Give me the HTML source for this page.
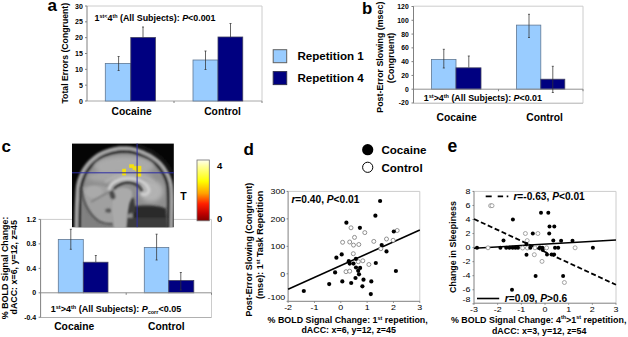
<!DOCTYPE html>
<html><head><meta charset="utf-8"><style>
html,body{margin:0;padding:0;background:#fff;}
svg{display:block;}
text{font-family:"Liberation Sans", sans-serif;fill:#000;}
</style></head><body>
<svg width="628" height="337" viewBox="0 0 628 337">
<rect width="628" height="337" fill="#fff"/>
<text x="47.4" y="10.8" font-size="17" font-weight="bold" text-anchor="start" >a</text>
<line x1="87" y1="6" x2="262" y2="6" stroke="#cccccc" stroke-width="1" />
<line x1="262" y1="6" x2="262" y2="101" stroke="#cccccc" stroke-width="1" />
<line x1="87" y1="101" x2="262" y2="101" stroke="#a8a8a8" stroke-width="1" />
<line x1="85" y1="101.0" x2="87" y2="101.0" stroke="#808080" stroke-width="1" />
<text x="82.8" y="103.6" font-size="7" font-weight="bold" text-anchor="end" >0</text>
<line x1="85" y1="85.16666666666667" x2="87" y2="85.16666666666667" stroke="#808080" stroke-width="1" />
<text x="82.8" y="87.76666666666667" font-size="7" font-weight="bold" text-anchor="end" >5</text>
<line x1="85" y1="69.33333333333333" x2="87" y2="69.33333333333333" stroke="#808080" stroke-width="1" />
<text x="82.8" y="71.93333333333332" font-size="7" font-weight="bold" text-anchor="end" >10</text>
<line x1="85" y1="53.5" x2="87" y2="53.5" stroke="#808080" stroke-width="1" />
<text x="82.8" y="56.1" font-size="7" font-weight="bold" text-anchor="end" >15</text>
<line x1="85" y1="37.666666666666664" x2="87" y2="37.666666666666664" stroke="#808080" stroke-width="1" />
<text x="82.8" y="40.266666666666666" font-size="7" font-weight="bold" text-anchor="end" >20</text>
<line x1="85" y1="21.83333333333333" x2="87" y2="21.83333333333333" stroke="#808080" stroke-width="1" />
<text x="82.8" y="24.43333333333333" font-size="7" font-weight="bold" text-anchor="end" >25</text>
<line x1="85" y1="6.0" x2="87" y2="6.0" stroke="#808080" stroke-width="1" />
<text x="82.8" y="8.6" font-size="7" font-weight="bold" text-anchor="end" >30</text>
<rect x="105.3" y="63.4" width="25.5" height="37.6" fill="#99CCFF" stroke="#5f7894" stroke-width="0.8"/>
<rect x="130.8" y="37.5" width="24.6" height="63.5" fill="#000080" stroke="#404060" stroke-width="0.8"/>
<rect x="193" y="60" width="25" height="41" fill="#99CCFF" stroke="#5f7894" stroke-width="0.8"/>
<rect x="218" y="37" width="24.75" height="64" fill="#000080" stroke="#404060" stroke-width="0.8"/>
<line x1="87" y1="6" x2="87" y2="101" stroke="#808080" stroke-width="1" />
<line x1="174" y1="101" x2="174" y2="103" stroke="#808080" stroke-width="1" />
<line x1="262" y1="101" x2="262" y2="103" stroke="#808080" stroke-width="1" />
<line x1="118.6" y1="56.5" x2="118.6" y2="70.5" stroke="#333" stroke-width="0.75" />
<line x1="117.6" y1="56.5" x2="119.6" y2="56.5" stroke="#333" stroke-width="0.75" />
<line x1="117.6" y1="70.5" x2="119.6" y2="70.5" stroke="#333" stroke-width="0.75" />
<line x1="143" y1="27" x2="143" y2="37.5" stroke="#333" stroke-width="0.75" />
<line x1="142" y1="27" x2="144" y2="27" stroke="#333" stroke-width="0.75" />
<line x1="205.5" y1="51" x2="205.5" y2="69.5" stroke="#333" stroke-width="0.75" />
<line x1="204.5" y1="51" x2="206.5" y2="51" stroke="#333" stroke-width="0.75" />
<line x1="204.5" y1="69.5" x2="206.5" y2="69.5" stroke="#333" stroke-width="0.75" />
<line x1="230.5" y1="23.5" x2="230.5" y2="37" stroke="#333" stroke-width="0.75" />
<line x1="229.5" y1="23.5" x2="231.5" y2="23.5" stroke="#333" stroke-width="0.75" />
<text x="94.6" y="20.8" font-size="8.9" font-weight="bold">1<tspan font-size="5.4" dy="-3">st&lt;</tspan><tspan dy="3">4</tspan><tspan font-size="5.4" dy="-3">th</tspan><tspan dy="3"> (All Subjects): </tspan><tspan font-style="italic">P</tspan>&lt;0.001</text>
<text x="111.6" y="114.5" font-size="10.3" font-weight="bold" text-anchor="start" >Cocaine</text>
<text x="204.2" y="114.5" font-size="10.3" font-weight="bold" text-anchor="start" >Control</text>
<text transform="translate(68.2,53.2) rotate(-90)" x="0" y="0" font-size="8.7" font-weight="bold" text-anchor="middle" >Total Errors (Congruent)</text>
<rect x="273.2" y="49.7" width="13.5" height="13" fill="#99CCFF" stroke="#606060" stroke-width="1"/>
<rect x="273.2" y="71.6" width="13.5" height="13" fill="#000080" stroke="#303050" stroke-width="1"/>
<text x="297.4" y="59.6" font-size="11.6" font-weight="bold" text-anchor="start" >Repetition 1</text>
<text x="297.4" y="81.9" font-size="11.6" font-weight="bold" text-anchor="start" >Repetition 4</text>
<text x="361.9" y="13.5" font-size="16.8" font-weight="bold" text-anchor="start" >b</text>
<line x1="413.5" y1="6.2" x2="583" y2="6.2" stroke="#cccccc" stroke-width="1" />
<line x1="583" y1="6.2" x2="583" y2="103.2" stroke="#cccccc" stroke-width="1" />
<line x1="413.5" y1="103.2" x2="583" y2="103.2" stroke="#b0b0b0" stroke-width="1" />
<line x1="411.5" y1="102.98333333333333" x2="413.5" y2="102.98333333333333" stroke="#808080" stroke-width="1" />
<text x="408.7" y="105.48333333333333" font-size="6.8" font-weight="bold" text-anchor="end" >-20</text>
<line x1="411.5" y1="89.2" x2="413.5" y2="89.2" stroke="#808080" stroke-width="1" />
<text x="408.7" y="91.7" font-size="6.8" font-weight="bold" text-anchor="end" >0</text>
<line x1="411.5" y1="75.41666666666667" x2="413.5" y2="75.41666666666667" stroke="#808080" stroke-width="1" />
<text x="408.7" y="77.91666666666667" font-size="6.8" font-weight="bold" text-anchor="end" >20</text>
<line x1="411.5" y1="61.63333333333334" x2="413.5" y2="61.63333333333334" stroke="#808080" stroke-width="1" />
<text x="408.7" y="64.13333333333334" font-size="6.8" font-weight="bold" text-anchor="end" >40</text>
<line x1="411.5" y1="47.85" x2="413.5" y2="47.85" stroke="#808080" stroke-width="1" />
<text x="408.7" y="50.35" font-size="6.8" font-weight="bold" text-anchor="end" >60</text>
<line x1="411.5" y1="34.06666666666667" x2="413.5" y2="34.06666666666667" stroke="#808080" stroke-width="1" />
<text x="408.7" y="36.56666666666667" font-size="6.8" font-weight="bold" text-anchor="end" >80</text>
<line x1="411.5" y1="20.28333333333333" x2="413.5" y2="20.28333333333333" stroke="#808080" stroke-width="1" />
<text x="408.7" y="22.78333333333333" font-size="6.8" font-weight="bold" text-anchor="end" >100</text>
<line x1="411.5" y1="6.5" x2="413.5" y2="6.5" stroke="#808080" stroke-width="1" />
<text x="408.7" y="9.0" font-size="6.8" font-weight="bold" text-anchor="end" >120</text>
<rect x="431.5" y="59.56583333333334" width="24.5" height="29.634166666666665" fill="#99CCFF" stroke="#5f7894" stroke-width="0.8"/>
<rect x="456" y="67.83583333333334" width="25" height="21.364166666666662" fill="#000080" stroke="#404060" stroke-width="0.8"/>
<rect x="516.5" y="25.1075" width="24.3" height="64.0925" fill="#99CCFF" stroke="#5f7894" stroke-width="0.8"/>
<rect x="540.8" y="79.20708333333333" width="24" height="9.992916666666673" fill="#000080" stroke="#404060" stroke-width="0.8"/>
<line x1="413.5" y1="89.2" x2="583" y2="89.2" stroke="#909090" stroke-width="1" />
<line x1="413.5" y1="6.2" x2="413.5" y2="103.2" stroke="#808080" stroke-width="1" />
<line x1="498.5" y1="89.2" x2="498.5" y2="91.2" stroke="#808080" stroke-width="1" />
<line x1="583" y1="89.2" x2="583" y2="91.2" stroke="#808080" stroke-width="1" />
<line x1="443.8" y1="49.3" x2="443.8" y2="68" stroke="#333" stroke-width="0.75" />
<line x1="442.8" y1="49.3" x2="444.8" y2="49.3" stroke="#333" stroke-width="0.75" />
<line x1="442.8" y1="68" x2="444.8" y2="68" stroke="#333" stroke-width="0.75" />
<line x1="468.8" y1="56" x2="468.8" y2="67.5" stroke="#333" stroke-width="0.75" />
<line x1="467.8" y1="56" x2="469.8" y2="56" stroke="#333" stroke-width="0.75" />
<line x1="529" y1="14.3" x2="529" y2="37.5" stroke="#333" stroke-width="0.75" />
<line x1="528" y1="14.3" x2="530" y2="14.3" stroke="#333" stroke-width="0.75" />
<line x1="528" y1="37.5" x2="530" y2="37.5" stroke="#333" stroke-width="0.75" />
<line x1="552.8" y1="66.3" x2="552.8" y2="92.5" stroke="#333" stroke-width="0.75" />
<line x1="551.8" y1="66.3" x2="553.8" y2="66.3" stroke="#333" stroke-width="0.75" />
<line x1="551.8" y1="92.5" x2="553.8" y2="92.5" stroke="#333" stroke-width="0.75" />
<text x="423.8" y="100.8" font-size="8.9" font-weight="bold">1<tspan font-size="5.5" dy="-3">st</tspan><tspan dy="3">&gt;4</tspan><tspan font-size="5.5" dy="-3">th</tspan><tspan dy="3"> (All Subjects): </tspan><tspan font-style="italic">P</tspan>&lt;0.01</text>
<text x="436.6" y="120.5" font-size="10.3" font-weight="bold" text-anchor="start" >Cocaine</text>
<text x="526.3" y="120.5" font-size="10.3" font-weight="bold" text-anchor="start" >Control</text>
<text transform="translate(383.4,57.2) rotate(-90)" x="0" y="0" font-size="8.85" font-weight="bold" text-anchor="middle" >Post-Error Slowing (msec)</text>
<text transform="translate(394.0,58) rotate(-90)" x="0" y="0" font-size="8.85" font-weight="bold" text-anchor="middle" >(Congruent)</text>
<text x="1.4" y="152.2" font-size="17" font-weight="bold" text-anchor="start" >c</text>
<line x1="40.6" y1="219.4" x2="211.5" y2="219.4" stroke="#cccccc" stroke-width="1" />
<line x1="211.5" y1="219.4" x2="211.5" y2="317.5" stroke="#cccccc" stroke-width="1" />
<line x1="40.6" y1="317.5" x2="211.5" y2="317.5" stroke="#b0b0b0" stroke-width="1" />
<line x1="38.6" y1="219.4" x2="40.6" y2="219.4" stroke="#808080" stroke-width="1" />
<text x="36.2" y="221.9" font-size="7" font-weight="bold" text-anchor="end" >1.2</text>
<line x1="38.6" y1="243.86666666666667" x2="40.6" y2="243.86666666666667" stroke="#808080" stroke-width="1" />
<text x="36.2" y="246.36666666666667" font-size="7" font-weight="bold" text-anchor="end" >0.8</text>
<line x1="38.6" y1="268.33333333333337" x2="40.6" y2="268.33333333333337" stroke="#808080" stroke-width="1" />
<text x="36.2" y="270.83333333333337" font-size="7" font-weight="bold" text-anchor="end" >0.4</text>
<line x1="38.6" y1="292.8" x2="40.6" y2="292.8" stroke="#808080" stroke-width="1" />
<text x="36.2" y="295.3" font-size="7" font-weight="bold" text-anchor="end" >0</text>
<line x1="38.6" y1="317.26666666666665" x2="40.6" y2="317.26666666666665" stroke="#808080" stroke-width="1" />
<text x="36.2" y="319.76666666666665" font-size="7" font-weight="bold" text-anchor="end" >-0.4</text>
<rect x="58.3" y="239.585" width="25" height="53.215" fill="#99CCFF" stroke="#5f7894" stroke-width="0.8"/>
<rect x="83.3" y="262.2166666666667" width="24.7" height="30.583333333333314" fill="#000080" stroke="#404060" stroke-width="0.8"/>
<rect x="144.3" y="247.5366666666667" width="24.5" height="45.26333333333332" fill="#99CCFF" stroke="#5f7894" stroke-width="0.8"/>
<rect x="168.8" y="280.56666666666666" width="25" height="12.233333333333348" fill="#000080" stroke="#404060" stroke-width="0.8"/>
<line x1="40.6" y1="292.8" x2="211.5" y2="292.8" stroke="#909090" stroke-width="1" />
<line x1="40.6" y1="219.4" x2="40.6" y2="317.5" stroke="#808080" stroke-width="1" />
<line x1="126.2" y1="292.8" x2="126.2" y2="294.8" stroke="#808080" stroke-width="1" />
<line x1="211.5" y1="292.8" x2="211.5" y2="294.8" stroke="#808080" stroke-width="1" />
<line x1="70.8" y1="229.3" x2="70.8" y2="249.3" stroke="#333" stroke-width="0.75" />
<line x1="69.8" y1="229.3" x2="71.8" y2="229.3" stroke="#333" stroke-width="0.75" />
<line x1="69.8" y1="249.3" x2="71.8" y2="249.3" stroke="#333" stroke-width="0.75" />
<line x1="95.8" y1="255.5" x2="95.8" y2="262" stroke="#333" stroke-width="0.75" />
<line x1="94.8" y1="255.5" x2="96.8" y2="255.5" stroke="#333" stroke-width="0.75" />
<line x1="156.6" y1="234.2" x2="156.6" y2="260" stroke="#333" stroke-width="0.75" />
<line x1="155.6" y1="234.2" x2="157.6" y2="234.2" stroke="#333" stroke-width="0.75" />
<line x1="155.6" y1="260" x2="157.6" y2="260" stroke="#333" stroke-width="0.75" />
<line x1="180.8" y1="272.5" x2="180.8" y2="290" stroke="#333" stroke-width="0.75" />
<line x1="179.8" y1="272.5" x2="181.8" y2="272.5" stroke="#333" stroke-width="0.75" />
<line x1="179.8" y1="290" x2="181.8" y2="290" stroke="#333" stroke-width="0.75" />
<text x="50.8" y="312.4" font-size="9.0" font-weight="bold">1<tspan font-size="5.5" dy="-3.2">st</tspan><tspan dy="3.2">&gt;4</tspan><tspan font-size="5.5" dy="-3.2">th</tspan><tspan dy="3.2"> (All Subjects): </tspan><tspan font-style="italic">P</tspan><tspan font-size="5.5" dy="2">corr</tspan><tspan dy="-2">&lt;0.05</tspan></text>
<text x="54.2" y="330.2" font-size="10.3" font-weight="bold" text-anchor="start" >Cocaine</text>
<text x="148.0" y="330.2" font-size="10.3" font-weight="bold" text-anchor="start" >Control</text>
<text transform="translate(8.3,267.9) rotate(-90)" x="0" y="0" font-size="8.9" font-weight="bold" text-anchor="middle" >% BOLD Signal Change:</text>
<text transform="translate(17.2,267.3) rotate(-90)" x="0" y="0" font-size="8.9" font-weight="bold" text-anchor="middle" >dACC: x=6, y=12, z=45</text>
<text x="243.6" y="155.3" font-size="17" font-weight="bold" text-anchor="start" >d</text>
<line x1="288.1" y1="191.4" x2="419.8" y2="191.4" stroke="#cccccc" stroke-width="1" />
<line x1="419.8" y1="191.4" x2="419.8" y2="301.3" stroke="#cccccc" stroke-width="1" />
<line x1="288.1" y1="191.4" x2="288.1" y2="301.3" stroke="#808080" stroke-width="1" />
<line x1="288.1" y1="301.3" x2="419.8" y2="301.3" stroke="#808080" stroke-width="1" />
<line x1="286.6" y1="191.4" x2="288.1" y2="191.4" stroke="#808080" stroke-width="1" />
<line x1="286.6" y1="218.86666666666667" x2="288.1" y2="218.86666666666667" stroke="#808080" stroke-width="1" />
<line x1="286.6" y1="246.33333333333334" x2="288.1" y2="246.33333333333334" stroke="#808080" stroke-width="1" />
<line x1="286.6" y1="273.8" x2="288.1" y2="273.8" stroke="#808080" stroke-width="1" />
<line x1="286.6" y1="301.26666666666665" x2="288.1" y2="301.26666666666665" stroke="#808080" stroke-width="1" />
<text x="285.3" y="194.0" font-size="7.6" font-weight="normal" text-anchor="end" textLength="14.83" lengthAdjust="spacingAndGlyphs">300</text>
<text x="285.3" y="221.6" font-size="7.6" font-weight="normal" text-anchor="end" textLength="14.83" lengthAdjust="spacingAndGlyphs">200</text>
<text x="285.3" y="249.1" font-size="7.6" font-weight="normal" text-anchor="end" textLength="14.83" lengthAdjust="spacingAndGlyphs">100</text>
<text x="285.3" y="276.5" font-size="7.6" font-weight="normal" text-anchor="end" textLength="4.94" lengthAdjust="spacingAndGlyphs">0</text>
<text x="285.3" y="299.8" font-size="7.6" font-weight="normal" text-anchor="end" textLength="17.80" lengthAdjust="spacingAndGlyphs">-100</text>
<line x1="288.1" y1="301.3" x2="288.1" y2="302.8" stroke="#808080" stroke-width="1" />
<text x="288.1" y="309.6" font-size="7.6" font-weight="normal" text-anchor="middle" textLength="7.91" lengthAdjust="spacingAndGlyphs">-2</text>
<line x1="314.44" y1="301.3" x2="314.44" y2="302.8" stroke="#808080" stroke-width="1" />
<text x="314.44" y="309.6" font-size="7.6" font-weight="normal" text-anchor="middle" textLength="7.91" lengthAdjust="spacingAndGlyphs">-1</text>
<line x1="340.78000000000003" y1="301.3" x2="340.78000000000003" y2="302.8" stroke="#808080" stroke-width="1" />
<text x="340.78000000000003" y="309.6" font-size="7.6" font-weight="normal" text-anchor="middle" textLength="4.94" lengthAdjust="spacingAndGlyphs">0</text>
<line x1="367.12" y1="301.3" x2="367.12" y2="302.8" stroke="#808080" stroke-width="1" />
<text x="367.12" y="309.6" font-size="7.6" font-weight="normal" text-anchor="middle" textLength="4.94" lengthAdjust="spacingAndGlyphs">1</text>
<line x1="393.46000000000004" y1="301.3" x2="393.46000000000004" y2="302.8" stroke="#808080" stroke-width="1" />
<text x="393.46000000000004" y="309.6" font-size="7.6" font-weight="normal" text-anchor="middle" textLength="4.94" lengthAdjust="spacingAndGlyphs">2</text>
<line x1="419.8" y1="301.3" x2="419.8" y2="302.8" stroke="#808080" stroke-width="1" />
<text x="419.8" y="309.6" font-size="7.6" font-weight="normal" text-anchor="middle" textLength="4.94" lengthAdjust="spacingAndGlyphs">3</text>
<circle cx="367.7" cy="149.7" r="5.6" fill="#000"/>
<circle cx="367.7" cy="167.3" r="5.1" fill="#fff" stroke="#000" stroke-width="1"/>
<text x="381.4" y="154.3" font-size="11.6" font-weight="bold" text-anchor="start" >Cocaine</text>
<text x="381.4" y="172.1" font-size="11.6" font-weight="bold" text-anchor="start" >Control</text>
<text x="291.4" y="202.8" font-size="10.2" font-weight="bold"><tspan font-style="italic">r</tspan>=0.40, <tspan font-style="italic">P</tspan>&lt;0.01</text>
<line x1="288.1" y1="289.3" x2="419.8" y2="230.0" stroke="#000" stroke-width="1.6"/>
<circle cx="351" cy="227.8" r="2.0" fill="#fff" stroke="#777" stroke-width="0.8"/>
<circle cx="364.8" cy="232.6" r="2.0" fill="#fff" stroke="#777" stroke-width="0.8"/>
<circle cx="397.2" cy="230.5" r="2.0" fill="#fff" stroke="#777" stroke-width="0.8"/>
<circle cx="354.5" cy="237.4" r="2.0" fill="#fff" stroke="#777" stroke-width="0.8"/>
<circle cx="342.6" cy="242.3" r="2.0" fill="#fff" stroke="#777" stroke-width="0.8"/>
<circle cx="349.7" cy="242" r="2.0" fill="#fff" stroke="#777" stroke-width="0.8"/>
<circle cx="353.5" cy="245.1" r="2.0" fill="#fff" stroke="#777" stroke-width="0.8"/>
<circle cx="358.8" cy="244.5" r="2.0" fill="#fff" stroke="#777" stroke-width="0.8"/>
<circle cx="373.8" cy="241.4" r="2.0" fill="#fff" stroke="#777" stroke-width="0.8"/>
<circle cx="386.5" cy="239" r="2.0" fill="#fff" stroke="#777" stroke-width="0.8"/>
<circle cx="393.1" cy="240.3" r="2.0" fill="#fff" stroke="#777" stroke-width="0.8"/>
<circle cx="380.8" cy="248.7" r="2.0" fill="#fff" stroke="#777" stroke-width="0.8"/>
<circle cx="353.3" cy="253.7" r="2.0" fill="#fff" stroke="#777" stroke-width="0.8"/>
<circle cx="358.3" cy="261.7" r="2.0" fill="#fff" stroke="#777" stroke-width="0.8"/>
<circle cx="362.8" cy="260.8" r="2.0" fill="#fff" stroke="#777" stroke-width="0.8"/>
<circle cx="368.9" cy="264.5" r="2.0" fill="#fff" stroke="#777" stroke-width="0.8"/>
<circle cx="346" cy="271.7" r="2.0" fill="#fff" stroke="#777" stroke-width="0.8"/>
<circle cx="349.7" cy="271.2" r="2.0" fill="#fff" stroke="#777" stroke-width="0.8"/>
<circle cx="380.1" cy="201" r="2.1" fill="#000"/>
<circle cx="375.4" cy="215.7" r="2.1" fill="#000"/>
<circle cx="346.4" cy="222.7" r="2.1" fill="#000"/>
<circle cx="359.9" cy="227.8" r="2.1" fill="#000"/>
<circle cx="393.8" cy="231.5" r="2.1" fill="#000"/>
<circle cx="381.7" cy="245" r="2.1" fill="#000"/>
<circle cx="386.5" cy="251.4" r="2.1" fill="#000"/>
<circle cx="341.7" cy="254.4" r="2.1" fill="#000"/>
<circle cx="336.4" cy="257.7" r="2.1" fill="#000"/>
<circle cx="355.9" cy="258.8" r="2.1" fill="#000"/>
<circle cx="348.8" cy="261.2" r="2.1" fill="#000"/>
<circle cx="349.7" cy="263.6" r="2.1" fill="#000"/>
<circle cx="353.5" cy="263.6" r="2.1" fill="#000"/>
<circle cx="375.8" cy="263" r="2.1" fill="#000"/>
<circle cx="356" cy="267.5" r="2.1" fill="#000"/>
<circle cx="360.1" cy="267.9" r="2.1" fill="#000"/>
<circle cx="358.2" cy="270.8" r="2.1" fill="#000"/>
<circle cx="395.9" cy="271" r="2.1" fill="#000"/>
<circle cx="335.1" cy="272.4" r="2.1" fill="#000"/>
<circle cx="359" cy="274.3" r="2.1" fill="#000"/>
<circle cx="355.5" cy="278" r="2.1" fill="#000"/>
<circle cx="363.5" cy="279.7" r="2.1" fill="#000"/>
<circle cx="342.3" cy="281.4" r="2.1" fill="#000"/>
<circle cx="371.3" cy="281.4" r="2.1" fill="#000"/>
<circle cx="351.2" cy="283" r="2.1" fill="#000"/>
<circle cx="329.2" cy="284.1" r="2.1" fill="#000"/>
<circle cx="362.4" cy="286.3" r="2.1" fill="#000"/>
<circle cx="303.8" cy="291" r="2.1" fill="#000"/>
<circle cx="370.8" cy="294.1" r="2.1" fill="#000"/>
<text x="267.6" y="322.8" font-size="8.9" font-weight="bold">% BOLD Signal Change: 1<tspan font-size="5.4" dy="-3.2">st</tspan><tspan dy="3.2"> repetition,</tspan></text>
<text x="348.7" y="333" font-size="8.9" font-weight="bold" text-anchor="middle" >dACC: x=6, y=12, z=45</text>
<text transform="translate(252.3,249.7) rotate(-90)" x="0" y="0" font-size="8.88" font-weight="bold" text-anchor="middle" >Post-Error Slowing (Congruent)</text>
<text transform="translate(263.4,244.8) rotate(-90)" font-size="9.0" font-weight="bold" text-anchor="middle">(mse): 1<tspan font-size="5.4" dy="-3.2">st</tspan><tspan dy="3.2"> Task Repetition</tspan></text>
<text x="447.6" y="152.2" font-size="17.5" font-weight="bold" text-anchor="start" >e</text>
<line x1="474" y1="191.4" x2="616" y2="191.4" stroke="#cccccc" stroke-width="1" />
<line x1="616" y1="191.4" x2="616" y2="303.2" stroke="#cccccc" stroke-width="1" />
<line x1="474" y1="191.4" x2="474" y2="303.2" stroke="#808080" stroke-width="1" />
<line x1="474" y1="303.2" x2="616" y2="303.2" stroke="#808080" stroke-width="1" />
<line x1="472.5" y1="303.79999999999995" x2="474" y2="303.79999999999995" stroke="#808080" stroke-width="1" />
<line x1="472.5" y1="289.75" x2="474" y2="289.75" stroke="#808080" stroke-width="1" />
<line x1="472.5" y1="275.7" x2="474" y2="275.7" stroke="#808080" stroke-width="1" />
<line x1="472.5" y1="261.65" x2="474" y2="261.65" stroke="#808080" stroke-width="1" />
<line x1="472.5" y1="247.6" x2="474" y2="247.6" stroke="#808080" stroke-width="1" />
<line x1="472.5" y1="233.55" x2="474" y2="233.55" stroke="#808080" stroke-width="1" />
<line x1="472.5" y1="219.5" x2="474" y2="219.5" stroke="#808080" stroke-width="1" />
<line x1="472.5" y1="205.45" x2="474" y2="205.45" stroke="#808080" stroke-width="1" />
<line x1="472.5" y1="191.4" x2="474" y2="191.4" stroke="#808080" stroke-width="1" />
<text x="470.4" y="302.0" font-size="7.6" font-weight="normal" text-anchor="end" textLength="7.91" lengthAdjust="spacingAndGlyphs">-8</text>
<text x="470.4" y="292.0" font-size="7.6" font-weight="normal" text-anchor="end" textLength="7.91" lengthAdjust="spacingAndGlyphs">-6</text>
<text x="470.4" y="278.1" font-size="7.6" font-weight="normal" text-anchor="end" textLength="7.91" lengthAdjust="spacingAndGlyphs">-4</text>
<text x="470.4" y="263.90000000000003" font-size="7.6" font-weight="normal" text-anchor="end" textLength="7.91" lengthAdjust="spacingAndGlyphs">-2</text>
<text x="470.4" y="250.2" font-size="7.6" font-weight="normal" text-anchor="end" textLength="4.94" lengthAdjust="spacingAndGlyphs">0</text>
<text x="470.4" y="235.6" font-size="7.6" font-weight="normal" text-anchor="end" textLength="4.94" lengthAdjust="spacingAndGlyphs">2</text>
<text x="470.4" y="221.6" font-size="7.6" font-weight="normal" text-anchor="end" textLength="4.94" lengthAdjust="spacingAndGlyphs">4</text>
<text x="470.4" y="207.79999999999998" font-size="7.6" font-weight="normal" text-anchor="end" textLength="4.94" lengthAdjust="spacingAndGlyphs">6</text>
<text x="470.4" y="194.4" font-size="7.6" font-weight="normal" text-anchor="end" textLength="4.94" lengthAdjust="spacingAndGlyphs">8</text>
<line x1="474.0" y1="303.2" x2="474.0" y2="304.7" stroke="#808080" stroke-width="1" />
<text x="474.0" y="312.2" font-size="7.6" font-weight="normal" text-anchor="middle" textLength="7.91" lengthAdjust="spacingAndGlyphs">-3</text>
<line x1="497.6666666666667" y1="303.2" x2="497.6666666666667" y2="304.7" stroke="#808080" stroke-width="1" />
<text x="497.6666666666667" y="312.2" font-size="7.6" font-weight="normal" text-anchor="middle" textLength="7.91" lengthAdjust="spacingAndGlyphs">-2</text>
<line x1="521.3333333333334" y1="303.2" x2="521.3333333333334" y2="304.7" stroke="#808080" stroke-width="1" />
<text x="521.3333333333334" y="312.2" font-size="7.6" font-weight="normal" text-anchor="middle" textLength="7.91" lengthAdjust="spacingAndGlyphs">-1</text>
<line x1="545.0" y1="303.2" x2="545.0" y2="304.7" stroke="#808080" stroke-width="1" />
<text x="545.0" y="312.2" font-size="7.6" font-weight="normal" text-anchor="middle" textLength="4.94" lengthAdjust="spacingAndGlyphs">0</text>
<line x1="568.6666666666666" y1="303.2" x2="568.6666666666666" y2="304.7" stroke="#808080" stroke-width="1" />
<text x="568.6666666666666" y="312.2" font-size="7.6" font-weight="normal" text-anchor="middle" textLength="4.94" lengthAdjust="spacingAndGlyphs">1</text>
<line x1="592.3333333333334" y1="303.2" x2="592.3333333333334" y2="304.7" stroke="#808080" stroke-width="1" />
<text x="592.3333333333334" y="312.2" font-size="7.6" font-weight="normal" text-anchor="middle" textLength="4.94" lengthAdjust="spacingAndGlyphs">2</text>
<line x1="616.0" y1="303.2" x2="616.0" y2="304.7" stroke="#808080" stroke-width="1" />
<text x="616.0" y="312.2" font-size="7.6" font-weight="normal" text-anchor="middle" textLength="4.94" lengthAdjust="spacingAndGlyphs">3</text>
<path d="M485.7,196.4 H491.7 M497.7,196.4 H503.1 M506.7,196.4 H508.3" stroke="#000" stroke-width="1.6" fill="none"/>
<text x="513.4" y="199.9" font-size="10.2" font-weight="bold"><tspan font-style="italic">r</tspan>=-0.63, <tspan font-style="italic">P</tspan>&lt;0.01</text>
<line x1="477" y1="298.5" x2="499.2" y2="298.5" stroke="#000" stroke-width="1.6"/>
<text x="504.8" y="302" font-size="10.2" font-weight="bold"><tspan font-style="italic">r</tspan>=0.09, <tspan font-style="italic">P</tspan>&gt;0.6</text>
<line x1="474" y1="248.3" x2="616" y2="240.0" stroke="#000" stroke-width="1.6"/>
<line x1="474" y1="219.0" x2="616" y2="284.8" stroke="#000" stroke-width="1.8" stroke-dasharray="5 2.6"/>
<circle cx="490.6" cy="205.7" r="2.0" fill="#fff" stroke="#888" stroke-width="0.75"/>
<circle cx="492.0" cy="205.7" r="2.0" fill="#fff" stroke="#888" stroke-width="0.75"/>
<circle cx="525.4" cy="233.5" r="2.0" fill="#fff" stroke="#888" stroke-width="0.75"/>
<circle cx="537.9" cy="233.5" r="2.0" fill="#fff" stroke="#888" stroke-width="0.75"/>
<circle cx="527.2" cy="240.6" r="2.0" fill="#fff" stroke="#888" stroke-width="0.75"/>
<circle cx="488" cy="247.8" r="2.0" fill="#fff" stroke="#888" stroke-width="0.75"/>
<circle cx="522.6" cy="248" r="2.0" fill="#fff" stroke="#888" stroke-width="0.75"/>
<circle cx="527.4" cy="248" r="2.0" fill="#fff" stroke="#888" stroke-width="0.75"/>
<circle cx="535" cy="247.8" r="2.0" fill="#fff" stroke="#888" stroke-width="0.75"/>
<circle cx="546.6" cy="247.8" r="2.0" fill="#fff" stroke="#888" stroke-width="0.75"/>
<circle cx="575.1" cy="247.8" r="2.0" fill="#fff" stroke="#888" stroke-width="0.75"/>
<circle cx="534.3" cy="254.7" r="2.0" fill="#fff" stroke="#888" stroke-width="0.75"/>
<circle cx="542" cy="261.4" r="2.0" fill="#fff" stroke="#888" stroke-width="0.75"/>
<circle cx="564.4" cy="282.5" r="2.0" fill="#fff" stroke="#888" stroke-width="0.75"/>
<circle cx="541" cy="212.7" r="2.0" fill="#000"/>
<circle cx="548.3" cy="212.7" r="2.0" fill="#000"/>
<circle cx="512.9" cy="219.4" r="2.0" fill="#000"/>
<circle cx="549.5" cy="226.4" r="2.0" fill="#000"/>
<circle cx="554.3" cy="226.4" r="2.0" fill="#000"/>
<circle cx="532.8" cy="233.5" r="2.0" fill="#000"/>
<circle cx="549.2" cy="233.5" r="2.0" fill="#000"/>
<circle cx="503.5" cy="240.6" r="2.0" fill="#000"/>
<circle cx="553.3" cy="240.6" r="2.0" fill="#000"/>
<circle cx="561.1" cy="240.7" r="2.0" fill="#000"/>
<circle cx="572.5" cy="240.7" r="2.0" fill="#000"/>
<circle cx="526.5" cy="244" r="2.0" fill="#000"/>
<circle cx="477" cy="247.8" r="2.0" fill="#000"/>
<circle cx="500.4" cy="247.8" r="2.0" fill="#000"/>
<circle cx="506.2" cy="247.8" r="2.0" fill="#000"/>
<circle cx="509.4" cy="247.8" r="2.0" fill="#000"/>
<circle cx="512.6" cy="247.8" r="2.0" fill="#000"/>
<circle cx="515.4" cy="247.8" r="2.0" fill="#000"/>
<circle cx="518" cy="247.8" r="2.0" fill="#000"/>
<circle cx="530.3" cy="247.8" r="2.0" fill="#000"/>
<circle cx="539.9" cy="247.6" r="2.0" fill="#000"/>
<circle cx="542.4" cy="247.8" r="2.0" fill="#000"/>
<circle cx="542.8" cy="250" r="2.0" fill="#000"/>
<circle cx="555" cy="247.8" r="2.0" fill="#000"/>
<circle cx="558.2" cy="247.8" r="2.0" fill="#000"/>
<circle cx="592.9" cy="247.8" r="2.0" fill="#000"/>
<circle cx="526.5" cy="254.7" r="2.0" fill="#000"/>
<circle cx="547" cy="254.5" r="2.0" fill="#000"/>
<circle cx="551.6" cy="254.5" r="2.0" fill="#000"/>
<circle cx="554.1" cy="254.5" r="2.0" fill="#000"/>
<circle cx="535.6" cy="275.9" r="2.0" fill="#000"/>
<circle cx="563.1" cy="275.9" r="2.0" fill="#000"/>
<circle cx="512" cy="289.7" r="2.0" fill="#000"/>
<text x="451" y="322.6" font-size="8.9" font-weight="bold">% BOLD Signal Change: 4<tspan font-size="5.4" dy="-3.2">th</tspan><tspan dy="3.2">&gt;1</tspan><tspan font-size="5.4" dy="-3.2">st</tspan><tspan dy="3.2"> repetition,</tspan></text>
<text x="539.2" y="333.6" font-size="8.9" font-weight="bold" text-anchor="middle" >dACC: x=3, y=12, z=54</text>
<text transform="translate(455.8,247) rotate(-90)" x="0" y="0" font-size="8.9" font-weight="bold" text-anchor="middle" >Change in Sleepiness</text>
<g>
<defs>
<clipPath id="bclip"><rect x="72" y="143.6" width="101.8" height="83.6"/></clipPath>
<filter id="bl1" x="-10%" y="-10%" width="120%" height="120%"><feGaussianBlur stdDeviation="0.55"/></filter>
<filter id="bl2" x="-30%" y="-30%" width="160%" height="160%"><feGaussianBlur stdDeviation="2.0"/></filter>
<filter id="bly" x="-30%" y="-30%" width="160%" height="160%"><feGaussianBlur stdDeviation="0.35"/></filter>
<filter id="bl4" x="-30%" y="-30%" width="160%" height="160%"><feGaussianBlur stdDeviation="0.9"/></filter>
<filter id="bl3" x="-30%" y="-30%" width="160%" height="160%"><feGaussianBlur stdDeviation="1.0"/></filter>
</defs>
<rect x="72" y="143.6" width="101.8" height="83.6" fill="#050505"/>
<g clip-path="url(#bclip)">
<g filter="url(#bl4)">
<path d="M135.88,144.59 L137.18,144.97 L138.54,145.41 L139.92,145.89 L141.33,146.41 L142.74,146.96 L144.12,147.52 L145.48,148.08 L146.77,148.64 L147.98,149.18 L149.11,149.69 L150.15,150.19 L151.13,150.69 L152.05,151.18 L152.92,151.67 L153.75,152.17 L154.54,152.67 L155.30,153.17 L156.03,153.67 L156.75,154.18 L157.48,154.71 L158.22,155.26 L158.97,155.84 L159.70,156.42 L160.43,157.03 L161.15,157.65 L161.86,158.29 L162.56,158.94 L163.24,159.62 L163.92,160.31 L164.57,161.03 L165.22,161.77 L165.84,162.52 L166.44,163.29 L167.02,164.06 L167.58,164.84 L168.11,165.62 L168.63,166.41 L169.13,167.20 L169.62,167.98 L170.09,168.77 L170.55,169.57 L171.00,170.38 L171.44,171.20 L171.87,172.04 L172.28,172.88 L172.69,173.74 L173.07,174.62 L173.44,175.50 L173.79,176.39" fill="none" stroke="#3a3a3a" stroke-width="1"/>
<path d="M74.40,231.98 L74.41,230.90 L74.42,229.50 L74.43,227.84 L74.45,225.98 L74.46,223.98 L74.48,221.90 L74.50,219.79 L74.53,217.73 L74.56,215.76 L74.60,213.95 L74.64,212.25 L74.69,210.58 L74.73,208.92 L74.78,207.29 L74.84,205.67 L74.90,204.07 L74.97,202.49 L75.04,200.93 L75.12,199.39 L75.20,197.88 L75.29,196.39 L75.36,194.92 L75.43,193.46 L75.50,192.01 L75.59,190.56 L75.69,189.13 L75.82,187.71 L75.98,186.31 L76.19,184.92 L76.45,183.55 L76.76,182.19 L77.13,180.86 L77.54,179.55 L77.99,178.28 L78.45,177.05 L78.92,175.87 L79.39,174.74 L79.85,173.69 L80.29,172.70 L80.70,171.79 L81.09,170.95 L81.46,170.18 L81.83,169.48 L82.20,168.83 L82.57,168.24 L82.94,167.67 L83.32,167.13 L83.71,166.60 L84.11,166.05 L84.54,165.48 L85.00,164.87 L85.48,164.25 L85.98,163.62 L86.49,162.99 L87.03,162.36 L87.59,161.72 L88.18,161.09 L88.79,160.45 L89.44,159.81 L90.11,159.18 L90.81,158.55 L91.54,157.91 L92.30,157.26 L93.10,156.61 L93.91,155.96 L94.74,155.33 L95.59,154.71 L96.45,154.11 L97.31,153.54 L98.18,153.01 L99.04,152.52 L99.89,152.06 L100.76,151.63 L101.62,151.23 L102.48,150.85 L103.35,150.50 L104.23,150.16 L105.11,149.84 L106.00,149.52 L106.90,149.21 L107.84,148.91 L108.82,148.61 L109.81,148.32 L110.82,148.04 L111.84,147.77 L112.85,147.53 L113.85,147.29 L114.84,147.08 L115.81,146.90 L116.74,146.73 L117.62,146.59 L118.47,146.47 L119.30,146.37 L120.11,146.29 L120.91,146.23 L121.71,146.19 L122.53,146.17 L123.35,146.16 L124.20,146.17 L125.08,146.20 L125.96,146.24 L126.86,146.28 L127.78,146.33 L128.72,146.39 L129.70,146.48 L130.70,146.60 L131.74,146.75 L132.82,146.94 L133.93,147.19 L135.08,147.48 L136.30,147.83 L137.58,148.25 L138.91,148.71 L140.27,149.22 L141.63,149.75 L142.99,150.29 L144.31,150.84 L145.57,151.39 L146.75,151.91 L147.83,152.41 L148.82,152.88 L149.75,153.35 L150.61,153.81 L151.42,154.27 L152.18,154.73 L152.91,155.19 L153.62,155.65 L154.32,156.13 L155.00,156.62 L155.70,157.13 L156.41,157.66 L157.12,158.20 L157.81,158.75 L158.49,159.32 L159.17,159.90 L159.83,160.49 L160.48,161.11 L161.11,161.73 L161.73,162.37 L162.34,163.03 L162.93,163.71 L163.50,164.41 L164.06,165.11 L164.60,165.83 L165.12,166.56 L165.63,167.30 L166.12,168.04 L166.59,168.79 L167.05,169.54 L167.50,170.29 L167.93,171.05 L168.36,171.81 L168.78,172.59 L169.19,173.38 L169.58,174.18 L169.95,174.99 L170.31,175.80 L170.66,176.62 L170.98,177.45 L171.28,178.27 L171.55,179.07 L171.80,179.84 L172.02,180.61 L172.24,181.38 L172.43,182.17 L172.61,182.98 L172.77,183.84 L172.92,184.74 L173.06,185.71 L173.19,186.75 L173.30,187.89 L173.40,189.10 L173.49,190.37 L173.56,191.68 L173.62,193.03 L173.67,194.41 L173.72,195.81 L173.75,197.21 L173.78,198.60 L173.80,199.97 L173.81,201.33 L173.81,202.68 L173.80,204.02 L173.79,205.37 L173.76,206.73 L173.73,208.11 L173.70,209.53 L173.67,210.98 L173.63,212.48 L173.60,214.04 L173.57,215.76 L173.53,217.68 L173.48,219.72 L173.43,221.83 L173.39,223.93 L173.34,225.95 L173.30,227.85 L173.26,229.54 L173.22,230.96 L173.20,232.05 L173.20,240 L74.40,240 Z" fill="#a8a8a8"/>
<path d="M78.30,232.02 L78.31,230.93 L78.32,229.53 L78.33,227.87 L78.35,226.01 L78.36,224.01 L78.38,221.94 L78.40,219.84 L78.43,217.78 L78.46,215.83 L78.50,214.04 L78.54,212.35 L78.58,210.69 L78.63,209.04 L78.68,207.42 L78.74,205.81 L78.80,204.23 L78.86,202.66 L78.93,201.12 L79.01,199.60 L79.10,198.10 L79.18,196.60 L79.25,195.11 L79.32,193.65 L79.40,192.22 L79.48,190.82 L79.58,189.45 L79.70,188.11 L79.85,186.82 L80.04,185.56 L80.26,184.35 L80.54,183.16 L80.87,181.96 L81.25,180.78 L81.65,179.60 L82.08,178.46 L82.53,177.35 L82.98,176.28 L83.42,175.25 L83.85,174.29 L84.25,173.40 L84.61,172.62 L84.94,171.95 L85.25,171.35 L85.56,170.82 L85.86,170.33 L86.17,169.86 L86.50,169.39 L86.85,168.91 L87.24,168.39 L87.66,167.82 L88.10,167.24 L88.55,166.65 L89.01,166.07 L89.49,165.49 L89.98,164.91 L90.49,164.34 L91.02,163.76 L91.57,163.19 L92.14,162.62 L92.75,162.05 L93.40,161.47 L94.09,160.86 L94.80,160.25 L95.55,159.64 L96.31,159.04 L97.08,158.45 L97.86,157.88 L98.64,157.34 L99.41,156.83 L100.17,156.36 L100.92,155.93 L101.68,155.52 L102.44,155.15 L103.22,154.79 L104.00,154.45 L104.79,154.12 L105.60,153.81 L106.43,153.51 L107.28,153.21 L108.14,152.91 L109.02,152.62 L109.94,152.34 L110.88,152.07 L111.83,151.80 L112.79,151.55 L113.75,151.32 L114.70,151.10 L115.62,150.90 L116.52,150.73 L117.38,150.58 L118.20,150.45 L118.98,150.34 L119.72,150.25 L120.45,150.18 L121.16,150.12 L121.87,150.09 L122.59,150.06 L123.34,150.06 L124.11,150.07 L124.94,150.10 L125.80,150.13 L126.67,150.17 L127.54,150.22 L128.41,150.28 L129.29,150.36 L130.19,150.46 L131.11,150.60 L132.06,150.77 L133.04,150.98 L134.05,151.24 L135.14,151.56 L136.33,151.95 L137.59,152.38 L138.88,152.86 L140.20,153.37 L141.51,153.90 L142.79,154.43 L144.01,154.96 L145.15,155.47 L146.18,155.94 L147.10,156.38 L147.95,156.81 L148.73,157.23 L149.46,157.64 L150.14,158.05 L150.80,158.46 L151.44,158.89 L152.08,159.33 L152.73,159.79 L153.39,160.27 L154.06,160.77 L154.71,161.27 L155.35,161.78 L155.98,162.30 L156.59,162.83 L157.19,163.36 L157.77,163.91 L158.34,164.48 L158.90,165.05 L159.43,165.63 L159.96,166.23 L160.47,166.85 L160.96,167.49 L161.45,168.14 L161.93,168.80 L162.39,169.48 L162.84,170.16 L163.28,170.86 L163.71,171.56 L164.13,172.26 L164.54,172.97 L164.94,173.68 L165.33,174.41 L165.70,175.13 L166.06,175.87 L166.40,176.60 L166.73,177.34 L167.04,178.08 L167.33,178.82 L167.60,179.56 L167.84,180.30 L168.07,181.00 L168.28,181.68 L168.46,182.36 L168.63,183.05 L168.79,183.76 L168.93,184.52 L169.07,185.33 L169.19,186.22 L169.31,187.19 L169.42,188.25 L169.51,189.39 L169.60,190.61 L169.67,191.88 L169.73,193.19 L169.78,194.54 L169.82,195.92 L169.85,197.29 L169.88,198.67 L169.90,200.02 L169.91,201.35 L169.91,202.67 L169.91,203.98 L169.89,205.31 L169.86,206.65 L169.83,208.03 L169.80,209.43 L169.77,210.89 L169.73,212.40 L169.70,213.97 L169.67,215.68 L169.63,217.60 L169.58,219.64 L169.54,221.74 L169.49,223.84 L169.44,225.86 L169.40,227.76 L169.36,229.45 L169.33,230.87 L169.30,231.96 L169.30,240 L78.30,240 Z" fill="#1e1e1e"/>
<path d="M81.40,232.04 L81.41,230.96 L81.42,229.56 L81.43,227.89 L81.45,226.04 L81.46,224.04 L81.48,221.97 L81.50,219.88 L81.53,217.83 L81.56,215.89 L81.60,214.11 L81.64,212.43 L81.68,210.77 L81.73,209.13 L81.78,207.52 L81.83,205.92 L81.89,204.35 L81.96,202.80 L82.03,201.27 L82.11,199.77 L82.19,198.27 L82.28,196.76 L82.35,195.26 L82.42,193.80 L82.49,192.39 L82.57,191.02 L82.67,189.70 L82.78,188.44 L82.92,187.23 L83.09,186.08 L83.30,184.99 L83.55,183.92 L83.85,182.84 L84.19,181.75 L84.57,180.66 L84.98,179.58 L85.40,178.52 L85.83,177.49 L86.26,176.50 L86.68,175.55 L87.07,174.68 L87.41,173.95 L87.70,173.35 L87.97,172.85 L88.22,172.40 L88.47,172.00 L88.73,171.60 L89.02,171.19 L89.35,170.74 L89.72,170.24 L90.14,169.68 L90.57,169.12 L90.99,168.56 L91.43,168.02 L91.87,167.48 L92.32,166.94 L92.79,166.41 L93.27,165.89 L93.77,165.37 L94.30,164.85 L94.85,164.33 L95.46,163.78 L96.11,163.21 L96.79,162.63 L97.49,162.06 L98.21,161.49 L98.94,160.93 L99.66,160.40 L100.38,159.90 L101.08,159.44 L101.75,159.03 L102.42,158.64 L103.10,158.28 L103.79,157.94 L104.49,157.62 L105.20,157.30 L105.94,157.00 L106.70,156.71 L107.48,156.42 L108.29,156.14 L109.12,155.85 L109.96,155.58 L110.83,155.31 L111.72,155.05 L112.63,154.80 L113.55,154.56 L114.47,154.34 L115.37,154.13 L116.25,153.94 L117.09,153.78 L117.90,153.63 L118.66,153.51 L119.38,153.41 L120.06,153.33 L120.72,153.26 L121.35,153.22 L121.99,153.18 L122.64,153.16 L123.32,153.16 L124.04,153.17 L124.83,153.20 L125.67,153.23 L126.52,153.27 L127.34,153.31 L128.16,153.37 L128.97,153.44 L129.79,153.54 L130.61,153.66 L131.45,153.81 L132.32,154.00 L133.23,154.23 L134.23,154.52 L135.34,154.88 L136.54,155.30 L137.79,155.76 L139.06,156.26 L140.33,156.77 L141.58,157.29 L142.77,157.80 L143.87,158.29 L144.86,158.75 L145.74,159.16 L146.52,159.56 L147.24,159.94 L147.90,160.32 L148.52,160.69 L149.12,161.07 L149.71,161.46 L150.31,161.87 L150.92,162.31 L151.56,162.77 L152.19,163.24 L152.80,163.71 L153.39,164.18 L153.97,164.66 L154.54,165.15 L155.09,165.65 L155.62,166.15 L156.14,166.66 L156.64,167.18 L157.12,167.70 L157.59,168.24 L158.05,168.80 L158.50,169.37 L158.95,169.97 L159.39,170.58 L159.82,171.21 L160.24,171.85 L160.66,172.50 L161.06,173.16 L161.46,173.83 L161.84,174.50 L162.22,175.17 L162.58,175.85 L162.93,176.53 L163.27,177.21 L163.58,177.89 L163.88,178.56 L164.16,179.24 L164.42,179.91 L164.67,180.59 L164.90,181.27 L165.11,181.92 L165.30,182.54 L165.46,183.14 L165.61,183.75 L165.75,184.38 L165.88,185.06 L166.00,185.80 L166.12,186.62 L166.23,187.54 L166.33,188.54 L166.42,189.62 L166.50,190.80 L166.57,192.03 L166.63,193.32 L166.68,194.65 L166.72,196.00 L166.75,197.36 L166.78,198.72 L166.80,200.06 L166.81,201.37 L166.81,202.66 L166.81,203.95 L166.79,205.26 L166.76,206.59 L166.73,207.96 L166.70,209.36 L166.67,210.82 L166.63,212.33 L166.60,213.90 L166.57,215.62 L166.53,217.53 L166.48,219.57 L166.44,221.67 L166.39,223.77 L166.34,225.79 L166.30,227.69 L166.26,229.38 L166.23,230.80 L166.20,231.89 L166.20,240 L81.40,240 Z" fill="#8e8e8e"/>
</g>
<g filter="url(#bl2)">
<ellipse cx="124" cy="166" rx="30" ry="10" fill="#aaaaaa"/>
<ellipse cx="120" cy="177" rx="33" ry="6" fill="#a6a6a6"/>
<ellipse cx="151" cy="191" rx="12" ry="11" fill="#b2b2b2"/>
</g>
<g filter="url(#bl3)">
<path d="M82.5,192 C83,205 89,216 99,222.5 C104,225 109,225.5 114,225 L114,232 L82.5,232 Z" fill="#808080"/>
<path d="M82.5,188 C84,202 90,214 100,220.5 C105,223 109,223.5 113,223 L112.5,205 C112,198 111,192 109,188 C100,184 90,184 82.5,188 Z" fill="#a0a0a0"/>
<ellipse cx="94" cy="192" rx="9" ry="6" fill="#aaaaaa"/>
<path d="M133,206.5 C140,205 152,205 160,206.5 L166,208.5 L167,219 L133,219 Z" fill="#2a2a2a"/>
<path d="M127,218 L167,218 L168,232 L126,232 Z" fill="#3c3c3c"/>
<path d="M126.5,198 L134,198 L136,212 L127.5,214 Z" fill="#3a3a3a"/>
</g>
<g filter="url(#bl3)">
<path d="M81,187 C82.5,202 89,215 99,221.5 C104,224 109,224.5 113,224" fill="none" stroke="#484848" stroke-width="1.8"/>
<path d="M91,202 C98,198 105,194 111.5,191" fill="none" stroke="#707070" stroke-width="1.3"/>
<ellipse cx="108.5" cy="210.5" rx="3.2" ry="2" fill="#555"/>
</g>
<g filter="url(#bl4)">
<path d="M104.90,181.80 L105.83,181.32 L107.07,180.65 L108.54,179.84 L110.18,178.96 L111.91,178.08 L113.67,177.25 L115.39,176.53 L117.00,176.00 L118.53,175.63 L120.07,175.35 L121.62,175.16 L123.17,175.04 L124.72,174.98 L126.28,174.96 L127.84,174.97 L129.40,175.00 L130.97,175.04 L132.55,175.11 L134.15,175.21 L135.74,175.36 L137.32,175.55 L138.90,175.80 L140.46,176.11 L142.00,176.50 L143.59,177.02 L145.28,177.68 L147.00,178.44 L148.69,179.24 L150.27,180.03 L151.70,180.76 L152.90,181.37 L153.80,181.80" fill="none" stroke="#b0b0b0" stroke-width="2.5"/>
<path d="M108.80,190.00 L109.02,189.53 L109.27,188.88 L109.57,188.12 L109.92,187.28 L110.34,186.40 L110.82,185.53 L111.37,184.71 L112.00,184.00 L112.72,183.35 L113.54,182.71 L114.43,182.10 L115.39,181.51 L116.40,180.95 L117.44,180.44 L118.51,179.99 L119.60,179.60 L120.72,179.27 L121.90,178.98 L123.12,178.74 L124.37,178.56 L125.64,178.42 L126.91,178.33 L128.16,178.29 L129.40,178.30 L130.64,178.37 L131.90,178.49 L133.17,178.66 L134.43,178.89 L135.67,179.16 L136.87,179.47 L138.02,179.82 L139.10,180.20 L140.12,180.63 L141.12,181.11 L142.07,181.64 L142.98,182.20 L143.83,182.80 L144.62,183.42 L145.35,184.05 L146.00,184.70 L146.60,185.38 L147.15,186.12 L147.66,186.90 L148.09,187.69 L148.45,188.47 L148.71,189.23 L148.87,189.95 L148.90,190.60 L148.78,191.22 L148.52,191.83 L148.13,192.42 L147.66,192.98 L147.13,193.48 L146.57,193.92 L146.02,194.26 L145.50,194.50 L144.97,194.60 L144.37,194.57 L143.73,194.44 L143.09,194.24 L142.47,194.02 L141.91,193.79 L141.45,193.61 L141.10,193.50" fill="none" stroke="#cfcfcf" stroke-width="3.3"/>
<path d="M114.50,190.00 L114.62,189.75 L114.74,189.42 L114.88,189.03 L115.06,188.59 L115.30,188.12 L115.62,187.64 L116.05,187.16 L116.60,186.70 L117.31,186.22 L118.17,185.69 L119.14,185.13 L120.19,184.57 L121.29,184.04 L122.40,183.57 L123.48,183.18 L124.50,182.90 L125.49,182.73 L126.48,182.63 L127.48,182.61 L128.47,182.65 L129.45,182.75 L130.42,182.89 L131.37,183.08 L132.30,183.30 L133.22,183.57 L134.16,183.90 L135.09,184.29 L136.00,184.72 L136.87,185.18 L137.69,185.67 L138.44,186.18 L139.10,186.70 L139.68,187.27 L140.19,187.93 L140.64,188.64 L141.03,189.36 L141.36,190.06 L141.65,190.68 L141.89,191.21 L142.10,191.60" fill="none" stroke="#383838" stroke-width="2.6"/>
<path d="M114.5,190 C119,186.5 128,186.5 131.5,190.5 C133,194 132,198.5 129.5,203 L127,214 L126,228 L114,228 L112,214 C111.5,206 111.5,197 114.5,190 Z" fill="#aaaaaa"/>
<ellipse cx="112.5" cy="195" rx="2.6" ry="4.5" fill="#4a4a4a" transform="rotate(-20 112.5 195)"/>
</g>
<g fill="#f4e010" filter="url(#bly)">
<rect x="122.2" y="168.8" width="3.8" height="6.6"/>
<rect x="129.2" y="164.3" width="4.8" height="3.6"/>
<rect x="132.6" y="166.2" width="3.4" height="3.6"/>
<rect x="134.9" y="165.9" width="6.4" height="5.0"/>
<rect x="136.0" y="170.4" width="5.2" height="6.2"/>
</g>
</g>
<line x1="72" y1="172.8" x2="173.8" y2="172.8" stroke="#2e2ea4" stroke-width="1.0"/>
<line x1="137.1" y1="143.6" x2="137.1" y2="227.2" stroke="#2e2ea4" stroke-width="1.0"/>
</g>
<defs><linearGradient id="cb" x1="0" y1="0" x2="0" y2="1"><stop offset="0" stop-color="#fffff0"/><stop offset="0.1" stop-color="#ffffa0"/><stop offset="0.35" stop-color="#ffff00"/><stop offset="0.55" stop-color="#ffa000"/><stop offset="0.72" stop-color="#ff2000"/><stop offset="0.88" stop-color="#c00000"/><stop offset="1" stop-color="#800000"/></linearGradient></defs>
<rect x="197" y="160" width="12.3" height="60.8" fill="url(#cb)" stroke="#707070" stroke-width="0.8"/>
<text x="216.9" y="168.7" font-size="9.5" font-weight="bold" text-anchor="start" >4</text>
<text x="216.9" y="222.4" font-size="9.5" font-weight="bold" text-anchor="start" >0</text>
<text x="180.2" y="200.2" font-size="10.5" font-weight="bold" text-anchor="start" >T</text>
</svg></body></html>
